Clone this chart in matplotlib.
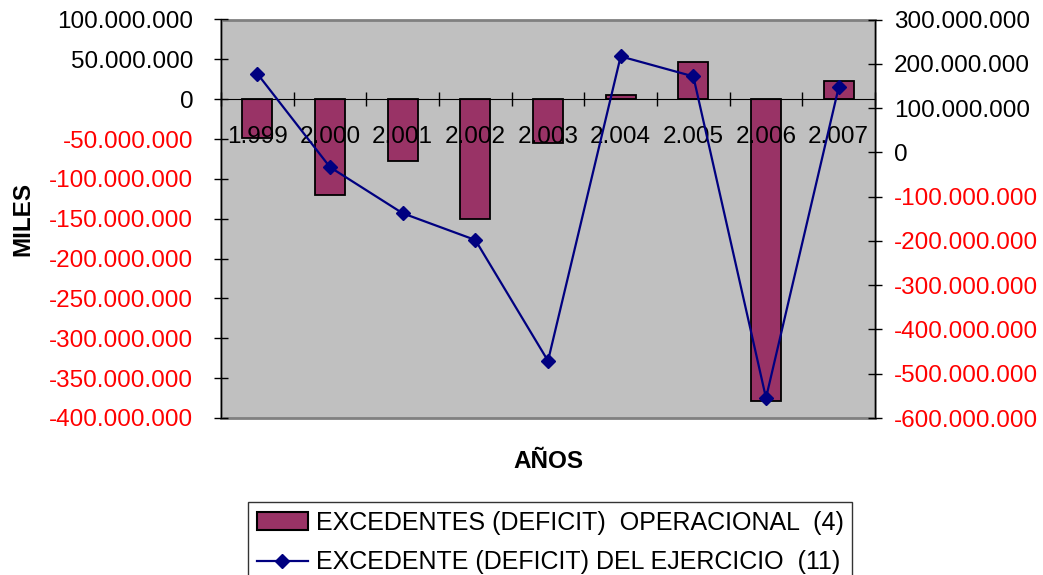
import numpy as np
import matplotlib
matplotlib.use("Agg")
import matplotlib.pyplot as plt
from matplotlib.patches import Patch
from matplotlib.lines import Line2D

plt.rcParams['font.family'] = ['Liberation Sans', 'DejaVu Sans']

# Data (miles)
years = ["1.999", "2.000", "2.001", "2.002", "2.003", "2.004", "2.005", "2.006", "2.007"]
operacional = [-48.6e6, -120.6e6, -77.9e6, -149.9e6, -54.9e6, 5.4e6, 46.5e6, -379.0e6, 22.6e6]
ejercicio = [177.6e6, -33.5e6, -137.6e6, -198.0e6, -471.0e6, 216.7e6, 171.5e6, -554.7e6, 146.6e6]

label_bar = "EXCEDENTES (DEFICIT)  OPERACIONAL  (4)"
label_line = "EXCEDENTE (DEFICIT) DEL EJERCICIO  (11)"

left_ticks = np.arange(-400e6, 100e6 + 1, 50e6)
right_ticks = np.arange(-600e6, 300e6 + 1, 100e6)

BAR_COLOR = "#993366"
LINE_COLOR = "#000080"
FS = 17.5


def fmt(v):
    return f"{v:,.0f}".replace(",", ".")


fig = plt.figure(figsize=(10.43, 5.75), dpi=100)
ax = fig.add_axes([221 / 1043, 1 - 418 / 575, (875 - 221) / 1043, (418 - 19.5) / 575])
ax.set_facecolor("#C0C0C0")
ax.patch.set_edgecolor("#808080")
ax.patch.set_linewidth(2)
ax.set_axisbelow(False)

x = np.arange(len(years))
ax.bar(x, operacional, width=0.41, color=BAR_COLOR, edgecolor="black", linewidth=1.3)
ax.set_xlim(-0.5, len(years) - 0.5)
ax.set_ylim(left_ticks[0], left_ticks[-1])

# Category axis crosses at zero
ax.spines['bottom'].set_position(('data', 0))
ax.spines['bottom'].set_color("black")
ax.spines['top'].set_visible(False)
ax.spines['right'].set_visible(False)
ax.spines['left'].set_color("black")
ax.set_xticks(x, years, fontsize=FS)
ax.set_xticks(np.arange(-0.5, len(years)), minor=True)
ax.tick_params(axis='x', which='major', length=0, pad=19)
ax.tick_params(axis='x', which='minor', direction='inout', length=10, width=1, color='black')

ax.set_yticks(left_ticks, [fmt(v) for v in left_ticks], fontsize=FS)
ax.tick_params(axis='y', direction='inout', length=10, width=1, pad=15)
for v, t in zip(left_ticks, ax.get_yticklabels()):
    t.set_color("red" if v < 0 else "black")

ax2 = ax.twinx()
ax2.plot(x, ejercicio, color=LINE_COLOR, linewidth=1.6, marker='D', markersize=7,
         markerfacecolor=LINE_COLOR, markeredgecolor=LINE_COLOR)
ax2.set_ylim(right_ticks[0], right_ticks[-1])
for s in ('top', 'bottom', 'left'):
    ax2.spines[s].set_visible(False)
ax2.spines['right'].set_color("black")
ax2.set_yticks(right_ticks, [fmt(v) for v in right_ticks], fontsize=FS)
ax2.tick_params(axis='y', direction='inout', length=10, width=1, pad=8.7)
for v, t in zip(right_ticks, ax2.get_yticklabels()):
    t.set_color("red" if v < 0 else "black")

fig.text(22.5 / 1043, 1 - 218.7 / 575, "MILES", rotation=90, ha='center', va='center',
         fontsize=FS, fontweight='bold')
fig.text(548 / 1043, 1 - 461 / 575, "AÑOS", ha='center', va='center',
         fontsize=FS, fontweight='bold')

handles = [
    Patch(facecolor=BAR_COLOR, edgecolor="black", linewidth=1.5),
    Line2D([], [], color=LINE_COLOR, linewidth=1.6, marker='D', markersize=7,
           markerfacecolor=LINE_COLOR, markeredgecolor=LINE_COLOR),
]
leg = fig.legend(handles, [label_bar, label_line], loc='upper left',
                 bbox_to_anchor=(248 / 1043, 1 - 502 / 575), borderaxespad=0,
                 fontsize=18.0, frameon=True, fancybox=False, edgecolor="black",
                 borderpad=0.35, handlelength=2.05, handleheight=0.7, handletextpad=0.3,
                 labelspacing=0.62)
leg.get_frame().set_linewidth(1.0)

fig.savefig("out.png", dpi=100, facecolor="white")
